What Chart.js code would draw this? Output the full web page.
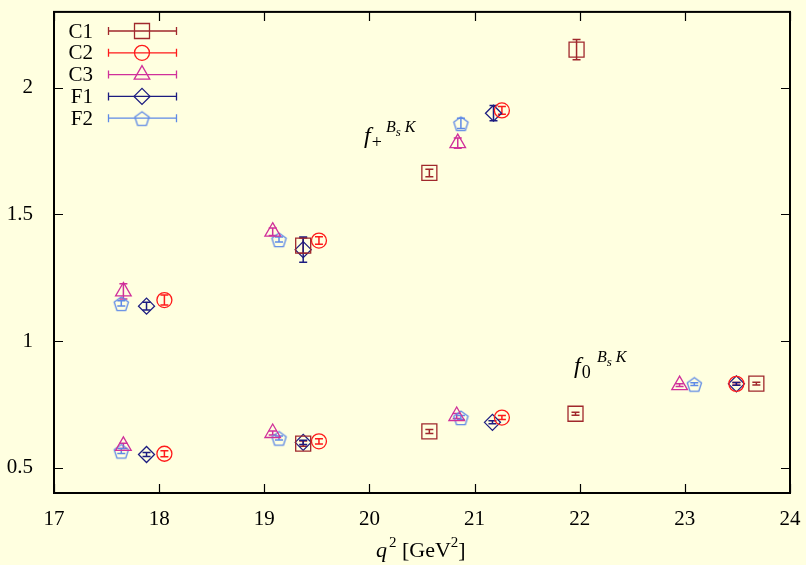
<!DOCTYPE html>
<html>
<head>
<meta charset="utf-8">
<script src="https://cdn.jsdelivr.net/npm/chart.js@4"></script>
<style>
  body { margin: 0; background: #ffffe0; }
  canvas { display: block; }
</style>
</head>
<body>
<canvas id="formFactorChart" width="806" height="565"></canvas>
<script>
// q^2 values, form factor values and errors per ensemble (f+ points first, then f0)
const c1Q2  = [19.37, 20.57, 21.97, 19.37, 20.57, 21.96, 23.68];
const c1Val = [1.377, 1.664, 2.151, 0.595, 0.643, 0.713, 0.832];
const c1Err = [0.03, 0.015, 0.04, 0.01, 0.008, 0.006, 0.005];

const c2Q2  = [18.05, 19.52, 21.26, 18.05, 19.52, 21.26, 23.49];
const c2Val = [1.162, 1.397, 1.911, 0.555, 0.604, 0.698, 0.831];
const c2Err = [0.02, 0.015, 0.015, 0.012, 0.01, 0.008, 0.005];

const c3Q2  = [17.66, 19.08, 20.84, 17.66, 19.08, 20.83, 22.95];
const c3Val = [1.196, 1.432, 1.782, 0.586, 0.637, 0.704, 0.826];
const c3Err = [0.03, 0.015, 0.02, 0.01, 0.008, 0.01, 0.005];

const f1Q2  = [17.88, 19.37, 21.18, 17.88, 19.37, 21.17, 23.49];
const f1Val = [1.138, 1.361, 1.900, 0.552, 0.600, 0.679, 0.831];
const f1Err = [0.015, 0.05, 0.03, 0.008, 0.008, 0.006, 0.005];

const f2Q2  = [17.64, 19.14, 20.87, 17.64, 19.14, 20.87, 23.09];
const f2Val = [1.149, 1.401, 1.860, 0.566, 0.617, 0.698, 0.830];
const f2Err = [0.01, 0.01, 0.02, 0.01, 0.008, 0.008, 0.005];

const xTicks = [17, 18, 19, 20, 21, 22, 23, 24];
const yTicks = [0.5, 1, 1.5, 2];

const serif = "'Liberation Serif', 'DejaVu Serif', serif";

// pentagon marker for F2 (no built-in style for it)
function makePentagon(color, r) {
    const c = document.createElement('canvas');
    const s = Math.ceil(r * 2 + 4);
    c.width = s; c.height = s;
    const g = c.getContext('2d');
    g.strokeStyle = color;
    g.lineWidth = 1.3;
    g.beginPath();
    for (let k = 0; k < 5; k++) {
        const a = -Math.PI / 2 + k * 2 * Math.PI / 5;
        const px = s / 2 + r * Math.cos(a), py = s / 2 + 1 + r * Math.sin(a);
        if (k === 0) g.moveTo(px, py); else g.lineTo(px, py);
    }
    g.closePath();
    g.stroke();
    return c;
}

const series = [
    { label: 'C1', q2: c1Q2, val: c1Val, err: c1Err, color: '#a0282c', style: 'rect', r: 10.6 },
    { label: 'C2', q2: c2Q2, val: c2Val, err: c2Err, color: '#ff1a1a', style: 'circle', r: 7.5 },
    { label: 'C3', q2: c3Q2, val: c3Val, err: c3Err, color: '#d0309a', style: 'triangle', r: 9 },
    { label: 'F1', q2: f1Q2, val: f1Val, err: f1Err, color: '#1c1c80', style: 'rectRot', r: 8 },
    { label: 'F2', q2: f2Q2, val: f2Val, err: f2Err, color: '#5f8ae6', style: null, r: 7.5 }
];
series[4].style = makePentagon(series[4].color, 7.5);

function drawMarker(ctx, s, x, y) {
    Chart.helpers.drawPoint(ctx, { pointStyle: s.style, radius: s.r, borderWidth: 1.3, rotation: 0 }, x, y);
}

const errorBars = {
    id: 'errorBars',
    beforeDatasetsDraw(chart) {
        const ctx = chart.ctx, xs = chart.scales.x, ys = chart.scales.y;
        ctx.save();
        series.forEach(s => {
            ctx.strokeStyle = s.color;
            ctx.lineWidth = 1.5;
            s.q2.forEach((q, i) => {
                const px = xs.getPixelForValue(q);
                const top = ys.getPixelForValue(s.val[i] + s.err[i]);
                const bot = ys.getPixelForValue(s.val[i] - s.err[i]);
                ctx.beginPath();
                ctx.moveTo(px, top); ctx.lineTo(px, bot);
                ctx.moveTo(px - 4, top); ctx.lineTo(px + 4, top);
                ctx.moveTo(px - 4, bot); ctx.lineTo(px + 4, bot);
                ctx.stroke();
            });
        });
        ctx.restore();
    }
};

function drawRich(ctx, x, y, parts) {
    // parts: [text, size, italic, dy, dx]
    parts.forEach(p => {
        ctx.font = (p[2] ? 'italic ' : '') + p[1] + 'px ' + serif;
        ctx.fillText(p[0], x + (p[4] || 0), y + p[3]);
        x += ctx.measureText(p[0]).width + (p[4] || 0);
    });
}

const frameAndText = {
    id: 'frameAndText',
    afterDraw(chart) {
        const ctx = chart.ctx, a = chart.chartArea, xs = chart.scales.x, ys = chart.scales.y;
        ctx.save();
        // inward ticks on all sides
        ctx.strokeStyle = '#000';
        ctx.lineWidth = 1.2;
        ctx.beginPath();
        xTicks.forEach(v => {
            const px = Math.round(xs.getPixelForValue(v)) + 0.5;
            ctx.moveTo(px, a.bottom); ctx.lineTo(px, a.bottom - 9);
            ctx.moveTo(px, a.top); ctx.lineTo(px, a.top + 9);
        });
        yTicks.forEach(v => {
            const py = Math.round(ys.getPixelForValue(v)) + 0.5;
            ctx.moveTo(a.left, py); ctx.lineTo(a.left + 9, py);
            ctx.moveTo(a.right, py); ctx.lineTo(a.right - 9, py);
        });
        ctx.stroke();
        // frame
        ctx.lineWidth = 2;
        ctx.strokeRect(a.left, a.top, a.right - a.left, a.bottom - a.top);

        // legend
        ctx.textBaseline = 'middle';
        series.forEach((s, i) => {
            const ly = 31 + i * 21.8;
            ctx.fillStyle = '#000';
            ctx.textAlign = 'right';
            ctx.font = '21px ' + serif;
            ctx.fillText(s.label, 93, ly + 1);
            ctx.strokeStyle = s.color;
            ctx.lineWidth = 1.3;
            ctx.beginPath();
            ctx.moveTo(108, ly); ctx.lineTo(177, ly);
            ctx.moveTo(108.5, ly - 4); ctx.lineTo(108.5, ly + 4);
            ctx.moveTo(176.5, ly - 4); ctx.lineTo(176.5, ly + 4);
            ctx.stroke();
            ctx.fillStyle = 'transparent';
            drawMarker(ctx, s, 142, ly);
        });

        // annotations
        ctx.fillStyle = '#000';
        ctx.textAlign = 'left';
        ctx.textBaseline = 'alphabetic';
        drawRich(ctx, 364, 143, [['f', 24, true, 0], ['+', 18, false, 5, 1]]);
        drawRich(ctx, 386, 132, [['B', 16, true, 0], ['s', 13, true, 4], ['K', 16, true, 0, 4]]);
        drawRich(ctx, 574, 373, [['f', 24, true, 0], ['0', 18, false, 5, 1]]);
        drawRich(ctx, 597, 362, [['B', 16, true, 0], ['s', 13, true, 4], ['K', 16, true, 0, 4]]);

        // x-axis title
        drawRich(ctx, 376, 557, [['q', 22, true, 0], ['2', 15, false, -10, 2], [' [GeV', 22, false, 0], ['2', 15, false, -10], [']', 22, false, 0]]);
        ctx.restore();
    }
};

function noPad(scale) {
    scale.paddingTop = 0; scale.paddingBottom = 0;
    scale.paddingLeft = 0; scale.paddingRight = 0;
}

const ctxFF = document.getElementById('formFactorChart').getContext('2d');
new Chart(ctxFF, {
    type: 'scatter',
    data: {
        datasets: series.map(s => ({
            label: s.label,
            data: s.q2.map((q, i) => ({ x: q, y: s.val[i] })),
            pointStyle: s.style,
            pointRadius: s.r,
            pointHoverRadius: s.r,
            borderColor: s.color,
            backgroundColor: 'transparent',
            pointBorderWidth: 1.3,
            showLine: false
        }))
    },
    options: {
        responsive: false,
        animation: false,
        events: [],
        layout: { padding: { top: 9, right: 16, left: 0, bottom: 0 } },
        plugins: {
            legend: { display: false },
            tooltip: { enabled: false }
        },
        scales: {
            x: {
                type: 'linear',
                min: 17,
                max: 24,
                grid: { display: false },
                border: { display: false },
                afterBuildTicks: scale => { scale.ticks = xTicks.map(v => ({ value: v })); },
                afterFit: scale => { scale.height = 72; noPad(scale); },
                ticks: {
                    color: '#000',
                    padding: 6,
                    maxRotation: 0,
                    font: { family: serif, size: 21 },
                    callback: v => String(v)
                }
            },
            y: {
                type: 'linear',
                min: 0.4,
                max: 2.3,
                grid: { display: false },
                border: { display: false },
                afterBuildTicks: scale => { scale.ticks = yTicks.map(v => ({ value: v })); },
                afterFit: scale => { scale.width = 54; noPad(scale); },
                ticks: {
                    color: '#000',
                    padding: 13,
                    font: { family: serif, size: 21 },
                    callback: v => String(v)
                }
            }
        }
    },
    plugins: [errorBars, frameAndText]
});
</script>
</body>
</html>
